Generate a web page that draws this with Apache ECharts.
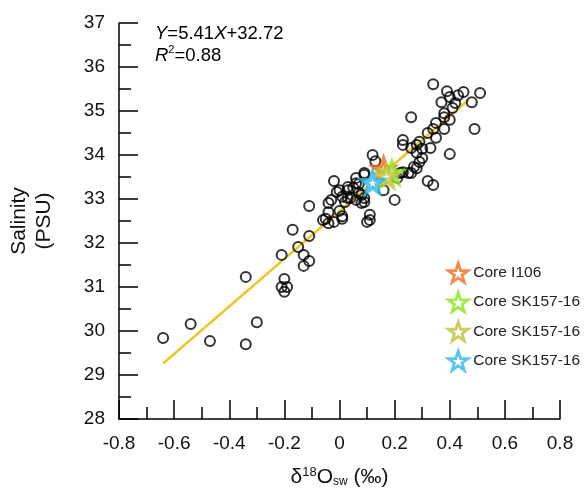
<!DOCTYPE html>
<html lang="en">
<head>
    <meta charset="UTF-8">
    <title>Salinity vs d18Osw</title>
    <script src="https://cdn.jsdelivr.net/npm/echarts/dist/echarts.min.js"></script>
    <style>
        html, body { margin: 0; padding: 0; background: #fff; }
        #main { width: 585px; height: 492px; }
    </style>
</head>
<body>
<div id="main"></div>
<script>
    // observed seawater samples (d18O, salinity)
    const obsX = [-0.64, -0.54, -0.47, -0.34, -0.34, -0.30, -0.20, -0.21, -0.19, -0.20,
        -0.21, -0.13, -0.13, -0.11, -0.15, -0.17, -0.11, -0.11, -0.05, -0.04,
        -0.02, 0.01, 0.00, 0.01, -0.04, -0.03, -0.02, 0.00, 0.03, 0.06,
        0.07, 0.09, 0.01, 0.03, 0.06, 0.08, 0.09, 0.11, 0.10, 0.12,
        0.13, 0.09, 0.06, 0.03, 0.07, 0.09, 0.04, 0.02, 0.20, 0.23,
        0.26, 0.21, 0.27, 0.23, 0.28, 0.28, 0.23, 0.26, 0.29, 0.30,
        0.33, 0.30, 0.29, 0.40, 0.28, 0.25, 0.22, 0.32, 0.34, 0.26,
        0.34, 0.39, 0.40, 0.43, 0.45, 0.51, 0.48, 0.37, 0.42, 0.41,
        0.38, 0.38, 0.40, 0.35, 0.34, 0.38, 0.32, 0.35, 0.49, 0.16,
        0.05, 0.08, -0.01, -0.04, -0.06, 0.11];
    const obsY = [29.84, 30.16, 29.77, 31.23, 29.70, 30.20, 30.89, 31.00, 31.00, 31.18,
        31.73, 31.73, 31.48, 31.59, 31.91, 32.30, 32.16, 32.84, 32.55, 32.45,
        32.48, 32.55, 32.73, 32.61, 32.91, 32.98, 33.41, 33.20, 33.27, 33.48,
        33.34, 33.55, 33.05, 33.02, 32.98, 33.09, 32.93, 32.52, 32.48, 34.00,
        33.86, 33.59, 33.36, 33.20, 33.14, 33.02, 33.02, 32.93, 32.98, 33.61,
        33.59, 33.48, 33.73, 34.23, 34.23, 34.05, 34.34, 34.16, 34.30, 34.14,
        34.16, 33.93, 33.84, 34.02, 33.70, 33.59, 33.59, 33.41, 33.32, 34.86,
        35.61, 35.45, 35.32, 35.36, 35.43, 35.41, 35.20, 35.20, 35.18, 35.07,
        34.95, 34.86, 34.80, 34.73, 34.59, 34.59, 34.50, 34.39, 34.59, 33.20,
        33.25, 32.91, 33.16, 32.70, 32.52, 32.64];

    // regression line end points
    const fitX = [-0.64, 0.47];
    const fitY = [29.26, 35.26];

    // core-top estimates
    const coreNames = ['Core I106', 'Core SK157-16', 'Core SK157-16 ', 'Core SK157-16  '];
    const coreX = [0.16, 0.19, 0.17, 0.12];
    const coreY = [33.68, 33.59, 33.52, 33.38];
    const coreColors = ['#f26b1d', '#8be31f', '#bfbf3a', '#2bb8ec'];

    const starPath = 'path://M50,2 L61.8,37.4 L98,37.4 L68.8,59.2 L79.8,95 L50,73.2 L20.2,95 L31.2,59.2 L2,37.4 L38.2,37.4 Z';
    const font = 'Liberation Sans, Arial, sans-serif';

    const chart = echarts.init(document.getElementById('main'));

    const obsData = obsX.map((x, i) => [x, obsY[i]]);
    const fitData = fitX.map((x, i) => [x, fitY[i]]);

    const series = [
        {
            type: 'line',
            data: fitData,
            symbol: 'none',
            lineStyle: { color: '#efc72a', width: 2.5 },
            silent: true,
            z: 2
        },
        {
            type: 'scatter',
            data: obsData,
            symbol: 'circle',
            symbolSize: 10,
            itemStyle: { color: 'rgba(255,255,255,0)', borderColor: '#000', borderWidth: 2 },
            z: 3
        }
    ];
    coreNames.forEach((name, i) => {
        series.push({
            name: name,
            type: 'scatter',
            data: [[coreX[i], coreY[i]]],
            symbol: starPath,
            symbolSize: 20,
            itemStyle: { color: '#fff', borderColor: coreColors[i], borderWidth: 4 },
            z: 4
        });
    });

    const option = {
        animation: false,
        backgroundColor: '#fff',
        grid: { left: 119, right: 25, top: 23, bottom: 73, containLabel: false, outerBoundsMode: 'none' },
        legend: {
            orient: 'vertical',
            left: 442,
            top: 257,
            itemWidth: 20,
            itemHeight: 19,
            itemGap: 7.5,
            data: coreNames.map((n, i) => ({
                name: n,
                icon: starPath,
                itemStyle: { color: '#fff', borderColor: coreColors[i], borderWidth: 2.8 }
            })),
            formatter: n => n.trim(),
            textStyle: { fontFamily: font, fontSize: 15.5, color: '#222' }
        },
        xAxis: {
            type: 'value',
            min: -0.8,
            max: 0.8,
            interval: 0.2,
            splitLine: { show: false },
            axisLine: { onZero: false, lineStyle: { color: '#000', width: 1.5 } },
            axisTick: { inside: true, length: 19, lineStyle: { color: '#000', width: 1.5 } },
            minorTick: { show: true, splitNumber: 2, length: 12, lineStyle: { color: '#000', width: 1.5 } },
            axisLabel: {
                fontFamily: font, fontSize: 19, color: '#111', margin: 15,
                formatter: v => Math.abs(v) < 1e-9 ? '0' : v.toFixed(1)
            },
            name: '{a|δ}{sup|18}{a|O}{sub|sw}{a| (‰)}',
            nameLocation: 'middle',
            nameGap: 47,
            nameTextStyle: {
                rich: {
                    a: { fontFamily: font, fontSize: 21, color: '#111' },
                    sup: { fontFamily: font, fontSize: 13, color: '#111', verticalAlign: 'top', padding: [0, 0, 9, 0] },
                    sub: { fontFamily: font, fontSize: 12, color: '#111', verticalAlign: 'bottom', padding: [9, 0, 0, 0] }
                }
            }
        },
        yAxis: {
            type: 'value',
            min: 28,
            max: 37,
            interval: 1,
            splitLine: { show: false },
            axisLine: { onZero: false, lineStyle: { color: '#000', width: 1.5 } },
            axisTick: { inside: true, length: 19, lineStyle: { color: '#000', width: 1.5 } },
            minorTick: { show: true, splitNumber: 2, length: 12, lineStyle: { color: '#000', width: 1.5 } },
            axisLabel: { fontFamily: font, fontSize: 19, color: '#111', margin: 14 },
            name: 'Salinity\n(PSU)',
            nameLocation: 'middle',
            nameGap: 62,
            nameRotate: 90,
            nameTextStyle: { fontFamily: font, fontSize: 21, color: '#111', lineHeight: 25 }
        },
        graphic: [
            {
                type: 'text',
                left: 155,
                top: 24,
                style: {
                    text: '{i|Y}{n|=5.41}{i|X}{n|+32.72}\n{i|R}{s|2}{n|=0.88}',
                    rich: {
                        i: { fontFamily: font, fontSize: 18.5, fontStyle: 'italic', color: '#111', lineHeight: 22 },
                        n: { fontFamily: font, fontSize: 18.5, color: '#111', lineHeight: 22 },
                        s: { fontFamily: font, fontSize: 11, color: '#111', verticalAlign: 'top', lineHeight: 22, padding: [0, 0, 7, 0] }
                    }
                }
            }
        ],
        series: series
    };

    chart.setOption(option);
</script>
</body>
</html>
